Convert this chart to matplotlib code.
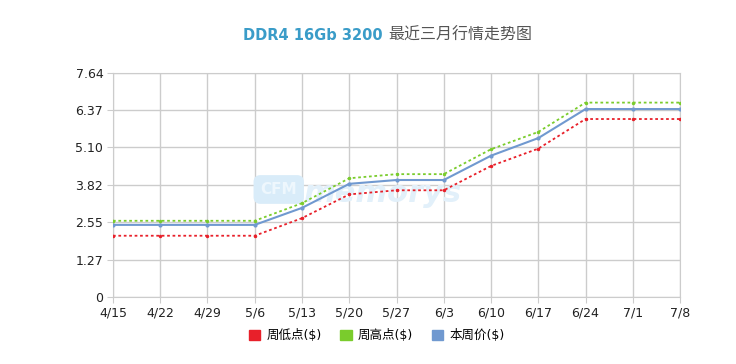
import matplotlib.pyplot as plt
from matplotlib.patches import Patch

plt.rcParams['font.family'] = ['DejaVu Sans', 'Noto Sans CJK SC']

dates = ['4/15', '4/22', '4/29', '5/6', '5/13', '5/20', '5/27', '6/3',
         '6/10', '6/17', '6/24', '7/1', '7/8']
week_low = [2.09, 2.09, 2.09, 2.09, 2.69, 3.50, 3.64, 3.64, 4.47, 5.06, 6.07, 6.07, 6.07]
week_high = [2.60, 2.60, 2.60, 2.60, 3.20, 4.05, 4.19, 4.19, 5.04, 5.63, 6.63, 6.63, 6.63]
week_price = [2.46, 2.46, 2.46, 2.46, 3.04, 3.86, 3.99, 3.99, 4.82, 5.42, 6.41, 6.41, 6.41]
yticks = [0, 1.27, 2.55, 3.82, 5.10, 6.37, 7.64]
ylabels = ['0', '1.27', '2.55', '3.82', '5.10', '6.37', '7.64']

red = '#e8202a'
green = '#7acc2c'
blue = '#7099d0'

fig = plt.figure(figsize=(7.36, 3.64), dpi=100)
ax = fig.add_axes([0.1535, 0.184, 0.7705, 0.6155])

x = list(range(len(dates)))
ax.plot(x, week_price, color=blue, lw=1.5, marker='o', ms=2, zorder=3)
ax.plot(x, week_high, color=green, lw=1.3, ls=(0, (1.5, 1.5)), marker='o', ms=1.5, zorder=3)
ax.plot(x, week_low, color=red, lw=1.3, ls=(0, (1.5, 1.5)), marker='o', ms=1.5, zorder=3)

ax.set_xlim(0, len(dates) - 1)
ax.set_ylim(0, 7.64)
ax.set_xticks(x)
ax.set_xticklabels(dates)
ax.set_yticks(yticks)
ax.set_yticklabels(ylabels)
ax.grid(True, color='#cccccc', lw=1)
ax.set_axisbelow(True)
for s in ax.spines.values():
    s.set_color('#cccccc')
ax.tick_params(colors='#222222', labelsize=9, length=4, color='#cccccc', pad=3)

# faint watermark behind the lines
ax.text(0.26, 0.48, 'CFM', transform=ax.transAxes, fontsize=11, color='#eef7fd',
        weight='bold', va='center',
        bbox=dict(boxstyle='round,pad=0.45', fc='#d9ecf9', ec='none'), zorder=1)
ax.text(0.335, 0.46, 'memorys', transform=ax.transAxes, fontsize=22, color='#e2f0fa',
        weight='bold', style='italic', va='center', zorder=1)

t1 = fig.text(0.330, 0.89, 'DDR4 16Gb 3200', fontsize=10.5, weight='bold', color='#3a9cc8')
fig.canvas.draw()
bb = t1.get_window_extent()
fig.text((bb.x1 + 6) / fig.bbox.width, 0.89, '最近三月行情走势图', fontsize=11.5, color='#555555')

handles = [Patch(color=red, label='周低点($)'),
           Patch(color=green, label='周高点($)'),
           Patch(color=blue, label='本周价($)')]
fig.legend(handles=handles, loc='center', bbox_to_anchor=(0.512, 0.078), ncol=3,
           frameon=False, fontsize=9, handlelength=0.9, handleheight=0.9,
           handletextpad=0.5, columnspacing=1.5)

fig.savefig('out.png', dpi=100)
